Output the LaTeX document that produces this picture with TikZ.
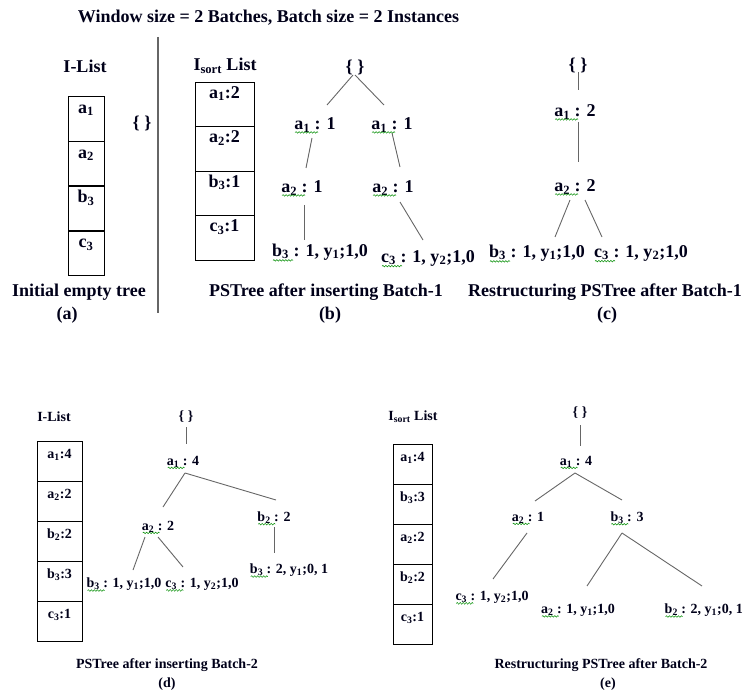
\documentclass[tikz,border=0pt]{standalone}
\usepackage{fontspec}
\setmainfont{Liberation Serif}
\usetikzlibrary{decorations.pathmorphing}
\newcommand\ssub[1]{\textsubscript{#1}}
\begin{document}
\begin{tikzpicture}[x=1pt,y=-1pt,
  big/.style={font=\fontsize{18}{20}\selectfont\bfseries, inner sep=0pt, text=black!90!blue},
  small/.style={font=\fontsize{14}{16}\selectfont\bfseries, inner sep=0pt, text=black!90!blue},
  edge/.style={draw=black!60, line width=0.9pt},
  squig/.style={draw=green!55!black, line width=0.5pt, decorate, decoration={snake, segment length=3pt, amplitude=0.8pt}},
  cell/.style={draw=black, line width=0.8pt, inner xsep=0pt, inner ysep=0pt, anchor=north},
  cellA/.style={cell, big, minimum width=36pt, text height=17pt, text depth=28pt},
  cellB/.style={cell, big, minimum width=59pt, text height=16pt, text depth=28.5pt},
  cellD/.style={cell, small, minimum width=45pt, text height=17pt, text depth=23pt},
  cellE/.style={cell, small, minimum width=39pt, text height=17pt, text depth=23pt}
]
\useasboundingbox (0,0) rectangle (744,695);

% title
\node[big] (title) at (268.5,18) {Window size = 2 Batches, Batch size = 2 Instances};
\coordinate (divtop) at (158,37);
\coordinate (divbot) at (158,313);
\draw[draw=black!60, line width=1.2pt] (divtop) -- (divbot);

% ---------- (a)
\node[big] (ilistA) at (85,66) {I-List};
\node[cellA] (a1) at (86,96) {a\ssub{1}};
\node[cellA] (a2) at (86,140.75) {a\ssub{2}};
\node[cellA] (a3) at (86,185.5) {b\ssub{3}};
\node[cellA] (a4) at (86,230.25) {c\ssub{3}};
\node[big] (rootA) at (142,123) {\{ \}};
\node[big] (capA) at (79,292) {Initial empty tree};
\node[big] (labA) at (67,315) {(a)};

% ---------- (b)
\node[big] (ilistB) at (225,66) {I\ssub{sort} List};
\node[cellB] (b1) at (224.5,82) {a\ssub{1}:2};
\node[cellB] (b2) at (224.5,126.5) {a\ssub{2}:2};
\node[cellB] (b3) at (224.5,171) {b\ssub{3}:1};
\node[cellB] (b4) at (224.5,215.5) {c\ssub{3}:1};

\node[big] (B0) at (355,67) {\{ \}};
\node[big] (B1L) at (315,125) {a\ssub{1} : 1};
\node[big] (B1R) at (392,125) {a\ssub{1} : 1};
\node[big] (B2L) at (302,188) {a\ssub{2} : 1};
\node[big] (B2R) at (393,188) {a\ssub{2} : 1};
\node[big] (B3L) at (320,252) {b\ssub{3} : 1, y\ssub{1};1,0};
\node[big] (B3R) at (428,258) {c\ssub{3} : 1, y\ssub{2};1,0};
\draw[edge] ([shift={(-2,8)}]B0.center) -- ([shift={(12,-20)}]B1L.center);
\draw[edge] ([shift={(0,8)}]B0.center) -- ([shift={(-8,-20)}]B1R.center);
\draw[edge] ([shift={(-3,13)}]B1L.center) -- ([shift={(4,-20)}]B2L.center);
\draw[edge] ([shift={(0,8)}]B1R.center) -- ([shift={(7,-21)}]B2R.center);
\draw[edge] ([shift={(2,17)}]B2L.center) -- ([shift={(-16,-12)}]B3L.center);
\draw[edge] ([shift={(7,14)}]B2R.center) -- ([shift={(-5,-18)}]B3R.center);
\foreach \n in {B1L,B1R,B2L,B2R} \draw[squig] ([shift={(1,0)}]\n.south west) -- ++(23,0);
\foreach \n in {B3L,B3R} \draw[squig] ([shift={(1,0)}]\n.south west) -- ++(20,0);
\node[big] (capB) at (326,292) {PSTree after inserting  Batch-1};
\node[big] (labB) at (330,315) {(b)};

% ---------- (c)
\node[big] (C0) at (578,65) {\{ \}};
\node[big] (C1) at (575,112) {a\ssub{1} : 2};
\node[big] (C2) at (575,187) {a\ssub{2} : 2};
\node[big] (C3L) at (537,253) {b\ssub{3} : 1, y\ssub{1};1,0};
\node[big] (C3R) at (641,253) {c\ssub{3} : 1, y\ssub{2};1,0};
\draw[edge] ([shift={(0,7)}]C0.center) -- ([shift={(3,-22)}]C1.center);
\draw[edge] ([shift={(3,10)}]C1.center) -- ([shift={(3,-25)}]C2.center);
\draw[edge] ([shift={(-5,13)}]C2.center) -- ([shift={(18,-16)}]C3L.center);
\draw[edge] ([shift={(10,13)}]C2.center) -- ([shift={(-39,-16)}]C3R.center);
\foreach \n in {C1,C2} \draw[squig] ([shift={(1,0)}]\n.south west) -- ++(23,0);
\foreach \n in {C3L,C3R} \draw[squig] ([shift={(1,0)}]\n.south west) -- ++(20,0);
\node[big] (capC) at (605,292) {Restructuring PSTree after Batch-1};
\node[big] (labC) at (607,315) {(c)};

% ---------- (d)
\node[small] (ilistD) at (54,417) {I-List};
\node[cellD] (d1) at (59.5,441) {a\ssub{1}:4};
\node[cellD] (d2) at (59.5,481) {a\ssub{2}:2};
\node[cellD] (d3) at (59.5,521) {b\ssub{2}:2};
\node[cellD] (d4) at (59.5,561) {b\ssub{3}:3};
\node[cellD] (d5) at (59.5,601) {c\ssub{3}:1};

\node[small] (D0) at (186,417) {\{ \}};
\node[small] (D1) at (183,462) {a\ssub{1} : 4};
\node[small] (D2) at (158,527) {a\ssub{2} : 2};
\node[small] (D3) at (274,518) {b\ssub{2} : 2};
\node[small] (D4L) at (124,584) {b\ssub{3} : 1, y\ssub{1};1,0};
\node[small] (D4M) at (202,584) {c\ssub{3} : 1, y\ssub{2};1,0};
\node[small] (D4R) at (289,570) {b\ssub{3} : 2, y\ssub{1};0, 1};
\draw[edge] ([shift={(0,10)}]D0.center) -- ([shift={(3,-18)}]D1.center);
\draw[edge] ([shift={(2,11)}]D1.center) -- ([shift={(5,-20)}]D2.center);
\draw[edge] ([shift={(2,11)}]D1.center) -- ([shift={(2,-18)}]D3.center);
\draw[edge] ([shift={(0,9)}]D3.center) -- ([shift={(-15,-17)}]D4R.center);
\draw[edge] ([shift={(-13,10)}]D2.center) -- ([shift={(9,-14)}]D4L.center);
\draw[edge] ([shift={(0,10)}]D2.center) -- ([shift={(-19,-17)}]D4M.center);
\foreach \n in {D1,D2,D3,D4L,D4M,D4R} \draw[squig] ([shift={(1,0)}]\n.south west) -- ++(17,0);
\node[small] (capD) at (167,665) {PSTree after inserting Batch-2};
\node[small] (labD) at (167,684) {(d)};

% ---------- (e)
\node[small] (ilistE) at (413,417) {I\ssub{sort} List};
\node[cellE] (e1) at (412.5,444) {a\ssub{1}:4};
\node[cellE] (e2) at (412.5,484) {b\ssub{3}:3};
\node[cellE] (e3) at (412.5,524) {a\ssub{2}:2};
\node[cellE] (e4) at (412.5,564) {b\ssub{2}:2};
\node[cellE] (e5) at (412.5,604) {c\ssub{3}:1};

\node[small] (E0) at (580,413) {\{ \}};
\node[small] (E1) at (576,462) {a\ssub{1} : 4};
\node[small] (E2) at (528,518) {a\ssub{2} : 1};
\node[small] (E3) at (627,518) {b\ssub{3} : 3};
\node[small] (E4L) at (492,597) {c\ssub{3} : 1, y\ssub{2};1,0};
\node[small] (E4M) at (578,610) {a\ssub{2} : 1, y\ssub{1};1,0};
\node[small, anchor=east] (E4R) at (743,610) {b\ssub{2} : 2, y\ssub{1};0, 1};
\draw[edge] ([shift={(0,12)}]E0.center) -- ([shift={(4,-16)}]E1.center);
\draw[edge] ([shift={(-1,11)}]E1.center) -- ([shift={(7,-17)}]E2.center);
\draw[edge] ([shift={(-1,11)}]E1.center) -- ([shift={(-5,-18)}]E3.center);
\draw[edge] ([shift={(-1,15)}]E2.center) -- ([shift={(1,-18)}]E4L.center);
\draw[edge] ([shift={(-5,15)}]E3.center) -- ([shift={(9,-24)}]E4M.center);
\draw[edge] ([shift={(-5,15)}]E3.center) -- ([shift={(-41,-24)}]E4R.east);
\foreach \n in {E1,E2,E3,E4L,E4M,E4R} \draw[squig] ([shift={(1,0)}]\n.south west) -- ++(17,0);
\node[small] (capE) at (601,665) {Restructuring PSTree after Batch-2};
\node[small] (labE) at (608,684) {(e)};
\end{tikzpicture}
\end{document}
